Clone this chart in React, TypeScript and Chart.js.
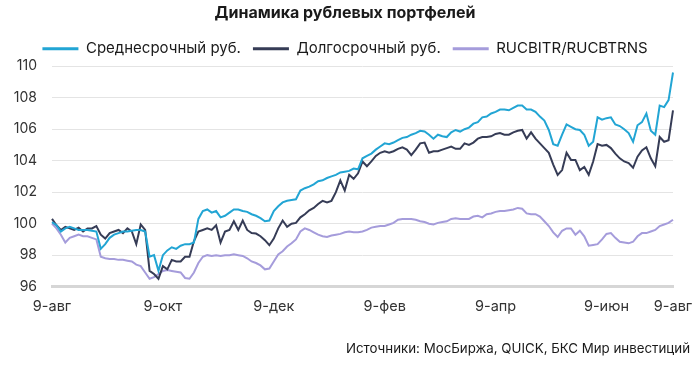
import React, { useEffect, useRef } from "react";
import { Chart, registerables } from "chart.js";

Chart.register(...registerables);

const titleText = "Динамика рублевых портфелей";
const sourceText = "Источники: МосБиржа, QUICK, БКС Мир инвестиций";

const seriesNames = ["Среднесрочный руб.", "Долгосрочный руб.", "RUCBITR/RUCBTRNS"];
const seriesColors = ["#22a5d4", "#363c56", "#a59cdb"];

const tickLabels = ["9-авг", "9-окт", "9-дек", "9-фев", "9-апр", "9-июн", "9-авг"];
const tickIndices = [0, 25, 50, 75, 100, 125, 140];

const midTerm = [
  100.1, 99.9, 99.5, 99.7, 99.8, 99.7, 99.6, 99.6, 99.6, 99.55,
  99.5, 98.4, 98.7, 99.1, 99.3, 99.4, 99.5, 99.5, 99.55, 99.6,
  99.6, 99.5, 97.9, 98.0, 97.0, 98.0, 98.3, 98.5, 98.4, 98.6,
  98.7, 98.7, 98.8, 100.3, 100.8, 100.9, 100.7, 100.8, 100.4, 100.5,
  100.7, 100.9, 100.9, 100.8, 100.75, 100.6, 100.5, 100.35, 100.15, 100.2,
  100.8, 101.1, 101.35, 101.45, 101.5, 101.55, 102.1, 102.25, 102.35, 102.5,
  102.7, 102.75, 102.9, 103.0, 103.1, 103.25, 103.3, 103.35, 103.5, 103.45,
  104.15, 104.3, 104.45, 104.7, 104.9, 105.1, 105.05, 105.15, 105.3, 105.45,
  105.5, 105.65, 105.75, 105.9, 105.85, 105.65, 105.4, 105.65, 105.55, 105.5,
  105.8, 105.95, 105.85, 106.0, 106.1, 106.35, 106.45, 106.75, 106.8, 107.0,
  107.1, 107.25, 107.25, 107.2, 107.35, 107.5, 107.5, 107.25, 107.25, 107.1,
  106.8, 106.55, 105.95, 105.05, 104.95, 105.65, 106.3, 106.15, 106.0, 105.95,
  105.65, 104.95, 105.2, 106.75, 106.6, 106.7, 106.75, 106.3, 106.2, 106.0,
  105.75, 105.2, 106.25, 106.45, 107.0, 105.9, 105.65, 107.5, 107.4, 107.85,
  109.6,
];

const longTerm = [
  100.3, 99.9, 99.6, 99.8, 99.7, 99.6, 99.75, 99.5, 99.7, 99.7,
  99.85, 99.3, 99.05, 99.4, 99.5, 99.6, 99.4, 99.7, 99.5, 98.7,
  99.95, 99.6, 97.0, 96.8, 96.5, 97.3, 97.1, 97.7, 97.6, 97.6,
  97.9, 97.9, 98.9, 99.5, 99.6, 99.7, 99.6, 99.9, 98.8, 99.5,
  99.6, 100.15, 99.6, 100.2, 99.6, 99.4, 99.37, 99.2, 98.95, 98.63,
  99.05, 99.7, 100.2, 99.8, 100.0, 100.05, 100.4, 100.6, 100.85, 101.0,
  101.25, 101.45, 101.35, 101.45, 102.0, 102.75, 102.1, 103.1, 102.85, 103.2,
  103.95, 103.65, 103.95, 104.3, 104.5, 104.6, 104.5, 104.6, 104.75, 104.85,
  104.7, 104.35, 104.7, 105.1, 105.15, 104.5, 104.6, 104.6, 104.7, 104.8,
  104.9, 104.75, 104.75, 105.1, 105.0, 105.15, 105.4, 105.5, 105.5, 105.55,
  105.7, 105.75, 105.65, 105.65, 105.8, 105.9, 105.95, 105.4, 105.8, 105.4,
  105.1, 104.8, 104.5, 103.75, 103.1, 103.4, 104.5, 104.05, 104.05, 103.4,
  103.6, 103.1, 103.95, 105.05, 104.95, 105.0, 104.8, 104.45, 104.15, 103.95,
  103.85, 103.55, 104.25, 104.65, 104.85, 104.15, 103.65, 105.5, 105.2, 105.3,
  107.2,
];

const benchmark = [
  100.0, 99.7, 99.3, 98.8, 99.1, 99.2, 99.3, 99.2, 99.2, 99.1,
  99.0, 97.9, 97.8, 97.75, 97.75, 97.7, 97.7, 97.65, 97.6, 97.4,
  97.3, 96.9, 96.5, 96.6, 96.8, 97.0, 97.05, 97.0, 96.95, 96.9,
  96.55, 96.5, 96.9, 97.5, 97.9, 98.0, 97.95, 98.0, 97.95, 98.0,
  98.0, 98.05, 98.0, 97.95, 97.8, 97.6, 97.5, 97.35, 97.1, 97.15,
  97.6, 98.05, 98.25, 98.55, 98.75, 99.0, 99.5, 99.7, 99.6, 99.45,
  99.3, 99.2, 99.15, 99.25, 99.3, 99.35, 99.45, 99.5, 99.45, 99.45,
  99.5, 99.6, 99.75, 99.8, 99.85, 99.85, 99.95, 100.05, 100.25, 100.3,
  100.3, 100.3, 100.25, 100.15, 100.1, 100.0, 99.95, 100.05, 100.1, 100.15,
  100.3, 100.35, 100.3, 100.3, 100.3, 100.45, 100.5, 100.4, 100.6, 100.65,
  100.75, 100.8, 100.8, 100.85, 100.9, 101.0, 100.95, 100.65, 100.6, 100.6,
  100.45, 100.15, 99.85, 99.45, 99.15, 99.55, 99.7, 99.7, 99.3, 99.55,
  99.2, 98.6, 98.65, 98.7, 99.0, 99.35, 99.4, 99.1, 98.85, 98.8,
  98.75, 98.85, 99.2, 99.4, 99.4, 99.5, 99.6, 99.85, 99.95, 100.05,
  100.25,
];

const FONT = "Inter, 'Noto Sans', sans-serif";

export default function App() {
  const ref = useRef<HTMLCanvasElement | null>(null);

  useEffect(() => {
    if (!ref.current) return;
    const labels = midTerm.map((_, i) => {
      const k = tickIndices.indexOf(i);
      return k >= 0 ? tickLabels[k] : "";
    });
    const data = [midTerm, longTerm, benchmark];
    const chart = new Chart(ref.current, {
      type: "line",
      data: {
        labels,
        datasets: data.map((d, i) => ({
          label: seriesNames[i],
          data: d,
          borderColor: seriesColors[i],
          backgroundColor: seriesColors[i],
          borderWidth: 2,
          pointRadius: 0,
          tension: 0,
        })),
      },
      options: {
        animation: false,
        responsive: false,
        events: [],
        layout: { padding: { left: 0, right: 10, top: 0, bottom: 0 } },
        font: { family: FONT },
        plugins: {
          title: {
            display: true,
            text: titleText,
            color: "#1a1a1a",
            font: { family: FONT, size: 16, weight: "bold" },
            padding: { top: 4, bottom: 6 },
          },
          subtitle: {
            display: true,
            text: sourceText,
            position: "bottom",
            align: "end",
            color: "#1a1a1a",
            font: { family: FONT, size: 13.3 },
            padding: { top: 15, bottom: 9 },
          },
          legend: {
            display: true,
            labels: {
              color: "#1a1a1a",
              font: { family: FONT, size: 15 },
              boxWidth: 36,
              boxHeight: 3,
              padding: 12,
              generateLabels: (c: any) =>
                Chart.defaults.plugins.legend.labels
                  .generateLabels(c)
                  .map((l: any) => ({ ...l, lineWidth: 0, fillStyle: l.strokeStyle })),
            },
          },
          tooltip: { enabled: false },
        },
        scales: {
          x: {
            type: "category",
            grid: { display: false, drawTicks: false },
            border: { display: true, color: "#d6d6d6", width: 3 },
            ticks: {
              autoSkip: false,
              maxRotation: 0,
              padding: 11,
              color: "#333",
              font: { family: FONT, size: 14.5 },
            },
            afterFit: (s: any) => {
              s.paddingRight = 27;
              s.paddingLeft = 0;
            },
          },
          y: {
            min: 96,
            max: 110,
            grid: { color: "#e4e4e4", lineWidth: 1, drawTicks: false },
            border: { display: false },
            ticks: {
              stepSize: 2,
              padding: 15,
              color: "#333",
              font: { family: FONT, size: 14 },
            },
            afterFit: (s: any) => {
              s.width = 52;
            },
          },
        },
      },
    });
    return () => chart.destroy();
  }, []);

  return (
    <div style={{ position: "absolute", left: 0, top: 0, width: 700, height: 366, background: "#fff" }}>
      <canvas ref={ref} width={700} height={366} style={{ display: "block" }} />
    </div>
  );
}
